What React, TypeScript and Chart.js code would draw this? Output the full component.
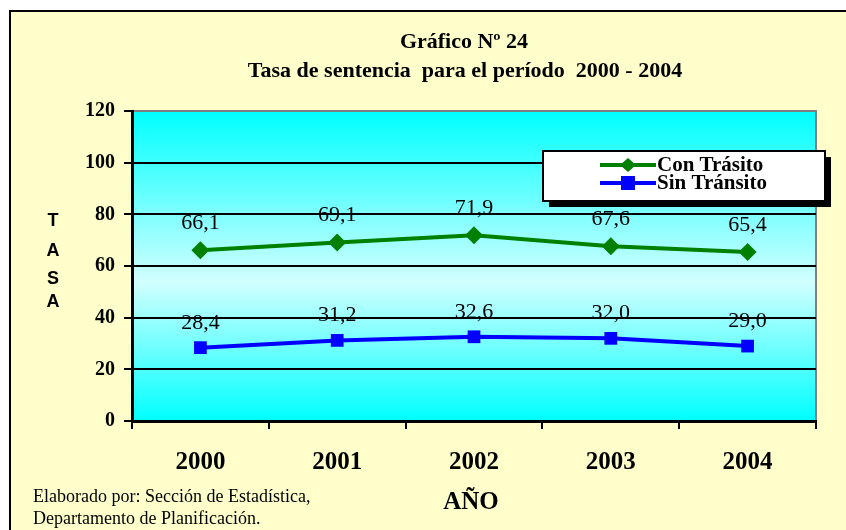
import React, { useEffect, useRef } from "react";
import { Chart, registerables } from "chart.js";

Chart.register(...registerables);

const years = ["2000", "2001", "2002", "2003", "2004"];
const conTransito = [66.1, 69.1, 71.9, 67.6, 65.4];
const sinTransito = [28.4, 31.2, 32.6, 32.0, 29.0];
const yTicks = [0, 20, 40, 60, 80, 100, 120];
const titleLines = ["Gráfico Nº 24", "Tasa de sentencia  para el período  2000 - 2004"];
const legendLabels = ["Con Trásito", "Sin Tránsito"];
const yTitleLetters = ["T", "A", "S", "A"];
const xTitle = "AÑO";
const footerLines = ["Elaborado por: Sección de Estadística,", "Departamento de Planificación."];

const GREEN = "#008000";
const BLUE = "#0000FF";
const TIMES = "'Liberation Serif', 'Times New Roman', serif";
const ARIAL = "'Liberation Sans', Arial, sans-serif";

const fmt = (v: number) => v.toFixed(1).replace(".", ",");

const decorPlugin = {
  id: "decor",
  beforeDraw(chart: any) {
    const { ctx, chartArea: a, width, height } = chart;
    ctx.save();
    ctx.fillStyle = "#FFFFFF";
    ctx.fillRect(0, 0, width, height);
    ctx.fillStyle = "#FFFFCC";
    ctx.fillRect(9, 10, width, height);
    ctx.strokeStyle = "#000";
    ctx.lineWidth = 2;
    ctx.beginPath();
    ctx.moveTo(10, height + 5);
    ctx.lineTo(10, 11);
    ctx.lineTo(width + 5, 11);
    ctx.stroke();
    const g = ctx.createLinearGradient(0, a.top, 0, a.bottom);
    g.addColorStop(0, "#00FFFF");
    g.addColorStop(0.55, "#D2FFFF");
    g.addColorStop(1, "#00FFFF");
    ctx.fillStyle = g;
    ctx.fillRect(a.left, a.top, a.right - a.left, a.bottom - a.top);
    ctx.strokeStyle = "#808080";
    ctx.lineWidth = 2;
    ctx.beginPath();
    ctx.moveTo(a.left, a.top);
    ctx.lineTo(a.right, a.top);
    ctx.lineTo(a.right, a.bottom);
    ctx.stroke();
    ctx.restore();
  },
  afterDraw(chart: any) {
    const { ctx } = chart;
    ctx.save();
    ctx.fillStyle = "#000";
    ctx.textAlign = "center";
    ctx.textBaseline = "middle";
    ctx.font = `bold 22px ${TIMES}`;
    ctx.fillText(titleLines[0], 464, 42);
    ctx.fillText(titleLines[1], 465, 71);
    ctx.font = `bold 18px ${ARIAL}`;
    const ly = [221, 251, 279, 302];
    yTitleLetters.forEach((l, i) => ctx.fillText(l, 53, ly[i]));
    ctx.font = `bold 25px ${TIMES}`;
    ctx.fillText(xTitle, 471, 503);
    ctx.textAlign = "left";
    ctx.font = `18px ${TIMES}`;
    ctx.fillText(footerLines[0], 33, 497);
    ctx.fillText(footerLines[1], 33, 519);

    // data labels
    ctx.textAlign = "center";
    ctx.textBaseline = "alphabetic";
    ctx.font = `22px ${TIMES}`;
    chart.data.datasets.forEach((ds: any, di: number) => {
      const meta = chart.getDatasetMeta(di);
      meta.data.forEach((pt: any, i: number) => {
        const off = di === 0 ? 21 : 19;
        ctx.fillText(fmt(ds.data[i]), pt.x, pt.y - off);
      });
    });

    // legend
    const bx = 543, by = 151, bw = 282, bh = 50;
    ctx.fillStyle = "#000";
    ctx.fillRect(bx + 6, by + 6, bw, bh);
    ctx.fillStyle = "#FFF";
    ctx.fillRect(bx, by, bw, bh);
    ctx.strokeStyle = "#000";
    ctx.lineWidth = 2;
    ctx.strokeRect(bx, by, bw, bh);
    const items = [
      { color: GREEN, y: 165, shape: "diamond" },
      { color: BLUE, y: 183, shape: "square" },
    ];
    items.forEach((it, i) => {
      ctx.strokeStyle = it.color;
      ctx.lineWidth = 4;
      ctx.beginPath();
      ctx.moveTo(600, it.y);
      ctx.lineTo(656, it.y);
      ctx.stroke();
      ctx.fillStyle = it.color;
      const cx = 628;
      if (it.shape === "diamond") {
        ctx.beginPath();
        ctx.moveTo(cx, it.y - 7);
        ctx.lineTo(cx + 8, it.y);
        ctx.lineTo(cx, it.y + 7);
        ctx.lineTo(cx - 8, it.y);
        ctx.closePath();
        ctx.fill();
      } else {
        ctx.fillRect(cx - 7, it.y - 7, 14, 14);
      }
      ctx.fillStyle = "#000";
      ctx.textAlign = "left";
      ctx.textBaseline = "middle";
      ctx.font = `bold 21px ${TIMES}`;
      ctx.fillText(legendLabels[i], 657, it.y + 1);
    });
    ctx.restore();
  },
};

export default function App() {
  const ref = useRef<HTMLCanvasElement>(null);
  useEffect(() => {
    if (!ref.current) return;
    const chart = new Chart(ref.current, {
      type: "line",
      data: {
        labels: years,
        datasets: [
          {
            label: legendLabels[0],
            data: conTransito,
            borderColor: GREEN,
            backgroundColor: GREEN,
            borderWidth: 4,
            pointStyle: "rectRot",
            pointRadius: 9,
            pointBorderWidth: 0,
            tension: 0,
          },
          {
            label: legendLabels[1],
            data: sinTransito,
            borderColor: BLUE,
            backgroundColor: BLUE,
            borderWidth: 4,
            pointStyle: "rect",
            pointRadius: 9,
            pointBorderWidth: 0,
            tension: 0,
          },
        ],
      },
      options: {
        responsive: false,
        animation: false,
        devicePixelRatio: 1,
        layout: { padding: { left: 0, right: 30, top: 111, bottom: 0 } },
        plugins: {
          legend: { display: false },
          title: { display: false },
          tooltip: { enabled: false },
        },
        scales: {
          x: {
            offset: true,
            grid: {
              offset: true,
              drawOnChartArea: false,
              color: "#000",
              lineWidth: 2,
              tickLength: 8,
            },
            border: { color: "#000", width: 3 },
            ticks: {
              color: "#000",
              font: { family: TIMES, size: 25, weight: "bold" },
              padding: 19,
            },
            afterFit(scale: any) {
              scale.height = 109;
            },
          },
          y: {
            min: 0,
            max: 120,
            afterBuildTicks(scale: any) {
              scale.ticks = yTicks.map((v) => ({ value: v }));
            },
            grid: {
              color: (c: any) => (c.tick && c.tick.value === 120 ? "#808080" : "#000"),
              lineWidth: 2,
              tickLength: 8,
              tickColor: "#000",
            },
            border: { color: "#000", width: 3 },
            ticks: {
              color: "#000",
              font: { family: TIMES, size: 20, weight: "bold" },
              padding: 9,
            },
            afterFit(scale: any) {
              scale.width = 132;
            },
          },
        },
      },
      plugins: [decorPlugin],
    } as any);
    return () => chart.destroy();
  }, []);
  return (
    <div style={{ position: "fixed", left: 0, top: 0, width: 846, height: 530 }}>
      <canvas ref={ref} width={846} height={530} style={{ display: "block" }} />
    </div>
  );
}
